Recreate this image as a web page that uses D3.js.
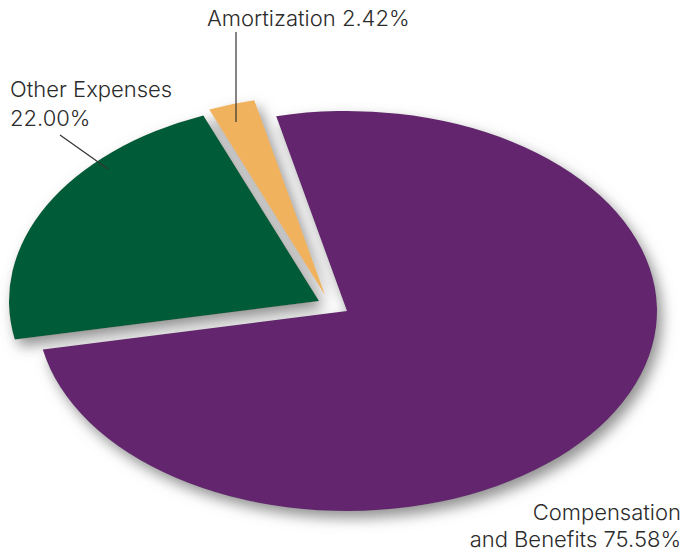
<!DOCTYPE html>
<html>
<head>
<meta charset="utf-8">
<script src="https://cdn.jsdelivr.net/npm/d3@7/dist/d3.min.js"></script>
<style>
  html, body { margin: 0; padding: 0; background: #fff; }
  svg { display: block; }
  .lbl { font-family: "Inter", "Liberation Sans", sans-serif; font-weight: 300; font-size: 22px; fill: #2b2b2b; }
</style>
</head>
<body>
<svg id="chart" width="685" height="554"></svg>
<script>
// Expense breakdown (percent of total)
const categories = ["Compensation and Benefits", "Other Expenses", "Amortization"];
const shares = [75.58, 22.00, 2.42];
const shareLabels = ["75.58%", "22.00%", "2.42%"];
const colors = ["#63276e", "#005c37", "#f0b25c"];

const W = 685, H = 554;
const svg = d3.select("#chart");

// Tilted pie: a circular pie squashed into an ellipse
const cx = 347, cy = 311, rx = 310, ry = 200;
const startDeg = -13.2;
const pie = d3.pie().sort(null).value(d => d)
  .startAngle(startDeg * Math.PI / 180)
  .endAngle((startDeg + 360) * Math.PI / 180);
const arc = d3.arc().innerRadius(0).outerRadius(ry);
const arcs = pie(shares);

// Slices pulled away from the centre (screen px)
const pull = [[0, 0], [-28, -10], [-22, -16]];

// Soft grey shadow under the whole pie
const defs = svg.append("defs");
const f = defs.append("filter").attr("id", "shadow")
  .attr("x", "-20%").attr("y", "-20%").attr("width", "140%").attr("height", "140%");
f.append("feGaussianBlur").attr("in", "SourceAlpha").attr("stdDeviation", 7).attr("result", "blur");
f.append("feOffset").attr("in", "blur").attr("dx", 5).attr("dy", 7).attr("result", "off");
f.append("feFlood").attr("flood-color", "#757575").attr("flood-opacity", 0.8).attr("result", "col");
f.append("feComposite").attr("in", "col").attr("in2", "off").attr("operator", "in").attr("result", "sh");
const m = f.append("feMerge");
m.append("feMergeNode").attr("in", "sh");
m.append("feMergeNode").attr("in", "SourceGraphic");

const g = svg.append("g").attr("filter", "url(#shadow)");
g.selectAll("path").data(arcs).join("path")
  .attr("transform", (d, i) =>
    `translate(${cx + pull[i][0]},${cy + pull[i][1]}) scale(${rx / ry},1)`)
  .attr("d", arc)
  .attr("fill", (d, i) => colors[i]);

// Labels and leader lines
const lines = svg.append("g").attr("stroke", "#333").attr("stroke-width", 1.2);
lines.append("line").attr("x1", 236).attr("y1", 32).attr("x2", 236).attr("y2", 122);
lines.append("line").attr("x1", 60).attr("y1", 135).attr("x2", 108).attr("y2", 169);

svg.append("text").attr("class", "lbl").attr("x", 207).attr("y", 26)
  .text(`${categories[2]} ${shareLabels[2]}`);

const t1 = svg.append("text").attr("class", "lbl").attr("x", 10).attr("y", 97);
t1.append("tspan").attr("x", 10).text(categories[1]);
t1.append("tspan").attr("x", 10).attr("y", 126).text(shareLabels[1]);

const t0 = svg.append("text").attr("class", "lbl").attr("text-anchor", "end");
t0.append("tspan").attr("x", 681).attr("y", 520).text("Compensation");
t0.append("tspan").attr("x", 681).attr("y", 547).text(`and Benefits ${shareLabels[0]}`);
</script>
</body>
</html>
